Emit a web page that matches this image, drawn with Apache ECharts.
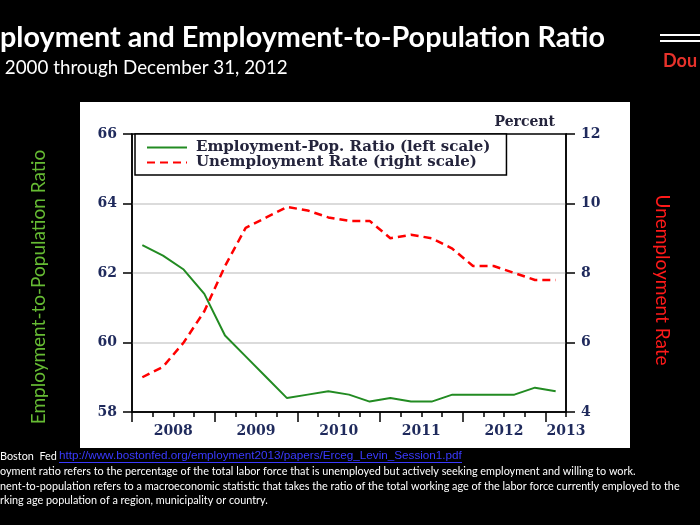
<!DOCTYPE html>
<html><head><meta charset="utf-8">
<script src="https://cdn.jsdelivr.net/npm/echarts@6/dist/echarts.min.js"></script>
<style>html,body{margin:0;padding:0;background:#000;}#c{width:700px;height:525px;}</style>
</head><body><div id="c"></div>
<script>
// ---- data ----
const quarters = ['2008Q1','2008Q2','2008Q3','2008Q4','2009Q1','2009Q2','2009Q3','2009Q4',
  '2010Q1','2010Q2','2010Q3','2010Q4','2011Q1','2011Q2','2011Q3','2011Q4',
  '2012Q1','2012Q2','2012Q3','2012Q4','2013Q1'];
const empPopRatio = [62.8,62.5,62.1,61.4,60.2,59.6,59.0,58.4,58.5,58.6,58.5,58.3,58.4,58.3,58.3,58.5,58.5,58.5,58.5,58.7,58.6];
const unempRate = [5.0,5.3,6.0,6.9,8.2,9.3,9.6,9.9,9.8,9.6,9.5,9.5,9.0,9.1,9.0,8.7,8.2,8.2,8.0,7.8,7.8];
const yearLabels = ['2008','2009','2010','2011','2012','2013'];
const seriesNames = ['Employment-Pop. Ratio (left scale)','Unemployment Rate (right scale)'];

// quarter -> position on a continuous time axis (quarter midpoint)
function qx(q){ const y = +q.slice(0,4), n = +q.slice(5); return y + (n - 0.5) / 4; }
const yearStart = +yearLabels[0].slice(0,4);

const ctx = document.createElement('canvas').getContext('2d');
function fit(text, family, weight, target){
  ctx.font = weight + ' 100px ' + family;
  return 100 * target / ctx.measureText(text).width;
}

const titleText = 'ployment and Employment-to-Population Ratio';
const subText = ' 2000 through December 31, 2012';
const foot1a = 'Boston  Fed';
const foot1b = 'http://www.bostonfed.org/employment2013/papers/Erceg_Levin_Session1.pdf';
const foot2 = 'oyment ratio refers to the percentage of the total labor force that is unemployed but actively seeking employment and willing to work.';
const foot3 = 'nent-to-population refers to a macroeconomic statistic that takes the ratio of the total working age of the labor force currently employed to the';
const foot4 = 'rking age population of a region, municipality or country.';

const titleSize = fit(titleText, 'Lato', 'bold', 605);
const subSize = fit(subText, 'Lato', 'normal', 288);
const footSize = fit(foot3, 'Lato', 'normal', 680);
const linkSize = fit(foot1b, '"Liberation Sans Narrow", "Liberation Sans"', 'normal', 403);

const labelColor = '#1f2a5c';
const serif = 'DejaVu Serif';

const chart = echarts.init(document.getElementById('c'));
chart.setOption({
  backgroundColor: '#000',
  animation: false,
  grid: {left: 132, right: 134, top: 134, bottom: 113, show: true, borderColor: '#000', borderWidth: 1.5, backgroundColor: 'transparent'},
  legend: {
    left: 135, top: 134, orient: 'vertical',
    data: seriesNames,
    backgroundColor: '#fff', borderColor: '#000', borderWidth: 1.5,
    padding: [6, 16, 5, 11], itemGap: 0, itemWidth: 40, itemHeight: 14,
    itemStyle: {opacity: 0},
    textStyle: {fontFamily: serif, fontWeight: 'bold', fontSize: 15, color: '#24243c', lineHeight: 14, padding: [0, 0, 0, 4]}
  },
  xAxis: [
    {type: 'value', min: 2008, max: 2013.25, interval: 0.25, position: 'bottom',
     axisLine: {show: true, onZero: false, lineStyle: {color: '#000', width: 1.5}},
     axisTick: {show: true, inside: false, length: 5, lineStyle: {color: '#000', width: 1.5}},
     axisLabel: {show: true, margin: 12, customValues: [2008.5, 2009.5, 2010.5, 2011.5, 2012.5, 2013.25],
       formatter: function(v){ return yearLabels[Math.min(Math.floor(v) - yearStart, yearLabels.length - 1)]; },
       fontFamily: serif, fontWeight: 'bold', fontSize: 14, color: labelColor},
     splitLine: {show: false}},
    {type: 'value', min: 2008, max: 2013.25, position: 'bottom',
     axisLine: {show: false},
     axisTick: {show: true, inside: false, length: 10, customValues: [2008, 2009, 2010, 2011, 2012, 2013], lineStyle: {color: '#000', width: 1.5}},
     axisLabel: {show: false}, splitLine: {show: false}}
  ],
  yAxis: [
    {type: 'value', min: 58, max: 66, interval: 2, position: 'left',
     name: 'Employment-to-Population Ratio', nameLocation: 'middle', nameGap: 84, nameRotate: 90,
     nameTextStyle: {color: '#66bb33', fontFamily: 'Lato', fontSize: 19, padding: [0, 28, 0, 0]},
     axisLine: {show: true, lineStyle: {color: '#000', width: 1.5}},
     axisTick: {show: true, inside: false, length: 9, lineStyle: {color: '#000', width: 1.5}},
     axisLabel: {margin: 15, fontFamily: serif, fontWeight: 'bold', fontSize: 14, color: labelColor},
     splitLine: {show: true, showMinLine: false, showMaxLine: false, lineStyle: {color: '#cfcfcf', width: 1.5}}},
    {type: 'value', min: 4, max: 12, interval: 2, position: 'right',
     name: 'Unemployment Rate', nameLocation: 'middle', nameGap: 87, nameRotate: -90,
     nameTextStyle: {color: '#ff1a1a', fontFamily: 'Lato', fontSize: 19, padding: [0, 0, 0, 14]},
     axisLine: {show: true, lineStyle: {color: '#000', width: 1.5}},
     axisTick: {show: true, inside: false, length: 9, lineStyle: {color: '#000', width: 1.5}},
     axisLabel: {margin: 15, fontFamily: serif, fontWeight: 'bold', fontSize: 14, color: labelColor},
     splitLine: {show: false}}
  ],
  series: [
    {name: seriesNames[0], type: 'line', xAxisIndex: 0, yAxisIndex: 0, symbol: 'none',
     data: quarters.map((q, i) => [qx(q), empPopRatio[i]]),
     lineStyle: {color: '#228b22', width: 2}, itemStyle: {color: '#228b22'}},
    {name: seriesNames[1], type: 'line', xAxisIndex: 0, yAxisIndex: 1, symbol: 'none',
     data: quarters.map((q, i) => [qx(q), unempRate[i]]),
     lineStyle: {color: '#ff0000', width: 2.5, type: [8, 5]}, itemStyle: {color: '#ff0000'}}
  ],
  graphic: [
    {type: 'rect', z: -10, shape: {x: 80, y: 102, width: 550, height: 346}, style: {fill: '#fff'}},
    {type: 'text', x: 555, y: 122, style: {text: 'Percent', fill: '#24243c', font: 'bold 14px "DejaVu Serif"', textAlign: 'right', textVerticalAlign: 'middle'}},
    {type: 'text', x: 0, y: 38, style: {text: titleText, fill: '#fff', font: 'bold ' + titleSize.toFixed(2) + 'px Lato', textAlign: 'left', textVerticalAlign: 'middle'}},
    {type: 'text', x: 0, y: 68, style: {text: subText, fill: '#fff', font: subSize.toFixed(2) + 'px Lato', textAlign: 'left', textVerticalAlign: 'middle'}},
    {type: 'line', shape: {x1: 660, y1: 35, x2: 700, y2: 35}, style: {stroke: '#fff', lineWidth: 2}},
    {type: 'line', shape: {x1: 660, y1: 41, x2: 700, y2: 41}, style: {stroke: '#fff', lineWidth: 2}},
    {type: 'text', x: 663, y: 61, style: {text: 'Dou', fill: '#e8322b', font: 'bold 18px Lato', textAlign: 'left', textVerticalAlign: 'middle'}},
    {type: 'text', x: 0, y: 456, style: {text: foot1a, fill: '#fff', font: footSize.toFixed(2) + 'px Lato', textAlign: 'left', textVerticalAlign: 'middle'}},
    {type: 'text', x: 59, y: 456, style: {text: foot1b, fill: '#3a3aff', font: linkSize.toFixed(2) + 'px "Liberation Sans Narrow", "Liberation Sans"', textAlign: 'left', textVerticalAlign: 'middle'}},
    {type: 'line', shape: {x1: 59, y1: 462.5, x2: 462, y2: 462.5}, style: {stroke: '#3a3aff', lineWidth: 1}},
    {type: 'text', x: 0, y: 471, style: {text: foot2, fill: '#fff', font: footSize.toFixed(2) + 'px Lato', textAlign: 'left', textVerticalAlign: 'middle'}},
    {type: 'text', x: 0, y: 486, style: {text: foot3, fill: '#fff', font: footSize.toFixed(2) + 'px Lato', textAlign: 'left', textVerticalAlign: 'middle'}},
    {type: 'text', x: 0, y: 500, style: {text: foot4, fill: '#fff', font: footSize.toFixed(2) + 'px Lato', textAlign: 'left', textVerticalAlign: 'middle'}}
  ]
});
</script></body></html>
